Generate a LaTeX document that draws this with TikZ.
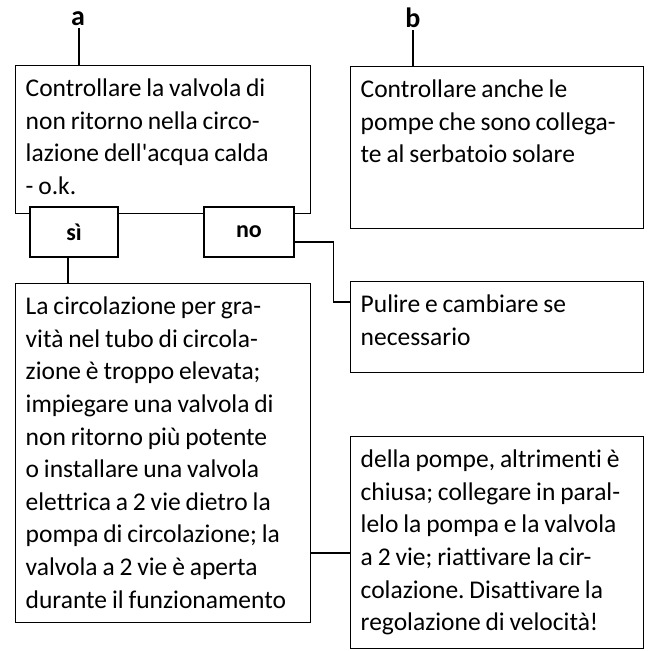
\documentclass[tikz,border=0pt]{standalone}
\usepackage{fontspec}
\setmainfont{Carlito}[Ligatures={TeX,NoCommon}]
\usetikzlibrary{positioning}
\frenchspacing
\newcommand\tightspace{\spaceskip=0.19em plus 0.05em minus 0.02em\relax}

\begin{document}
\begin{tikzpicture}[
    x=1pt, y=1pt,
    box/.style={
        rectangle,
        draw=black,
        line width=1.4pt,
        anchor=north west,
        align=left,
        inner xsep=10pt,
        inner ysep=0pt,
        text height=31pt,
        font=\fontsize{25.5}{32.6}\selectfont,
        execute at begin node=\tightspace
    },
    answer/.style={
        rectangle,
        draw=black,
        line width=1.4pt,
        fill=white,
        minimum width=88pt,
        minimum height=50pt,
        font=\fontsize{24}{26}\selectfont\bfseries
    },
    tag/.style={
        font=\fontsize{28}{30}\selectfont\bfseries
    },
    link/.style={
        line width=1.4pt
    }
]
    \useasboundingbox (0,0) rectangle (654,651);

    % Left column
    \node[box, text width=275pt, text depth=117pt] (chk) at (15,586) {Controllare la valvola di\\ non ritorno nella circo-\\ lazione dell\textquotesingle acqua calda\\ - o.k.};
    \node[box, text width=275pt, text depth=308pt] (res) at (15,368) {La circolazione per gra-\\ vità nel tubo di circola-\\ zione è troppo elevata;\\ impiegare una valvola di\\ non ritorno più potente\\ o installare una valvola\\ elettrica a 2 vie dietro la\\ pompa di circolazione; la\\ valvola a 2 vie è aperta\\ durante il funzionamento};

    % Right column
    \node[box, text width=273pt, text depth=131pt] (pmp) at (350,585) {Controllare anche le\\ pompe che sono collega-\\ te al serbatoio solare};
    \node[box, text width=273pt, text depth=60pt] (pul) at (350,370) {Pulire e cambiare se\\ necessario};
    \node[box, text width=273pt, text depth=181pt] (dd) at (350,215) {della pompe, altrimenti è\\ chiusa; collegare in paral-\\ lelo la pompa e la valvola\\ a 2 vie; riattivare la cir-\\ colazione. Disattivare la\\ regolazione di velocità!};

    % Answers
    \node[answer] (si) at (74,419) {sì};
    \node[answer, minimum width=90pt] (no) at (249,419) {no};

    % Labels
    \node[tag, inner ysep=2pt] (a) at (78,632) {a};
    \node[tag, inner ysep=2pt] (b) at (413,633) {b};

    % Connectors
    \draw[link] ([xshift=1pt]a.south) -- ([xshift=1pt]a.south |- chk.north);
    \draw[link] (b.south) -- (b.south |- pmp.north);
    \draw[link] ([xshift=-6pt]si.south) -- ([xshift=-6pt]si.south |- res.north);
    \draw[link] ([yshift=-10pt]no.east) -- ++(39,0) |- ([yshift=-21pt]pul.north west);
    \draw[link] ([yshift=-270pt]res.north east) -- ([yshift=-117pt]dd.north west);

\end{tikzpicture}
\end{document}
